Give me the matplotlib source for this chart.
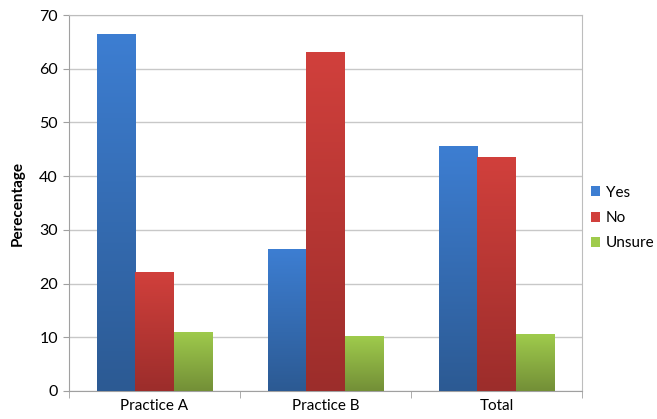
import matplotlib.pyplot as plt
import numpy as np
from matplotlib.colors import LinearSegmentedColormap

categories = ["Practice A", "Practice B", "Total"]
series = ["Yes", "No", "Unsure"]
yes = [66.5, 26.4, 45.6]
no = [22.2, 63.1, 43.5]
unsure = [11.0, 10.2, 10.6]

# top / bottom gradient colours per series
colors = {
    "Yes": ("#3D7ED2", "#2C5A93"),
    "No": ("#D1403C", "#9C2D2B"),
    "Unsure": ("#9FCB4C", "#738F37"),
}

plt.rcParams["font.family"] = ["Lato", "DejaVu Sans"]

fig = plt.figure(figsize=(6.57, 4.19), dpi=100)
ax = fig.add_axes([0.105, 0.067, 0.781, 0.897])

x = np.arange(len(categories))
width = 0.224
grad = np.linspace(1, 0, 256).reshape(-1, 1)

for i, (name, vals) in enumerate(zip(series, [yes, no, unsure])):
    top, bottom = colors[name]
    cmap = LinearSegmentedColormap.from_list(name, [bottom, top])
    bars = ax.bar(x + (i - 1) * width, vals, width, color=top, label=name,
                  edgecolor="none", zorder=2)
    for b in bars:
        bx, by = b.get_x(), b.get_y()
        bw, bh = b.get_width(), b.get_height()
        im = ax.imshow(grad, cmap=cmap, aspect="auto", zorder=3,
                       extent=[bx, bx + bw, by, by + bh], origin="upper")
        im.set_clip_path(b)

ax.set_xlim(-0.5, 2.5)
ax.set_ylim(0, 70)
ax.set_yticks(range(0, 71, 10))
ax.yaxis.grid(True, color="#C8C8C8", linewidth=1, zorder=0)
ax.set_axisbelow(True)

ax.set_xticks(x)
ax.set_xticklabels(categories, fontsize=11)
ax.set_xticks([-0.5, 0.5, 1.5, 2.5], minor=True)
ax.tick_params(axis="x", which="major", length=0, pad=6)
ax.tick_params(axis="x", which="minor", length=5, color="#A0A0A0")
ax.tick_params(axis="y", length=4, color="#A0A0A0", labelsize=11.5, pad=4)

for s in ax.spines.values():
    s.set_color("#BDBDBD")
ax.spines["left"].set_color("#A0A0A0")
ax.spines["bottom"].set_color("#A0A0A0")

ax.set_ylabel("Perecentage", fontsize=11, fontweight="bold", labelpad=10)

ax.legend(loc="center left", bbox_to_anchor=(1.0, 0.46), frameon=False,
          fontsize=11, handlelength=0.6, handleheight=0.6,
          handletextpad=0.35, labelspacing=0.75, borderaxespad=0.3,
          borderpad=0.3)

fig.savefig("out.png", dpi=100)
